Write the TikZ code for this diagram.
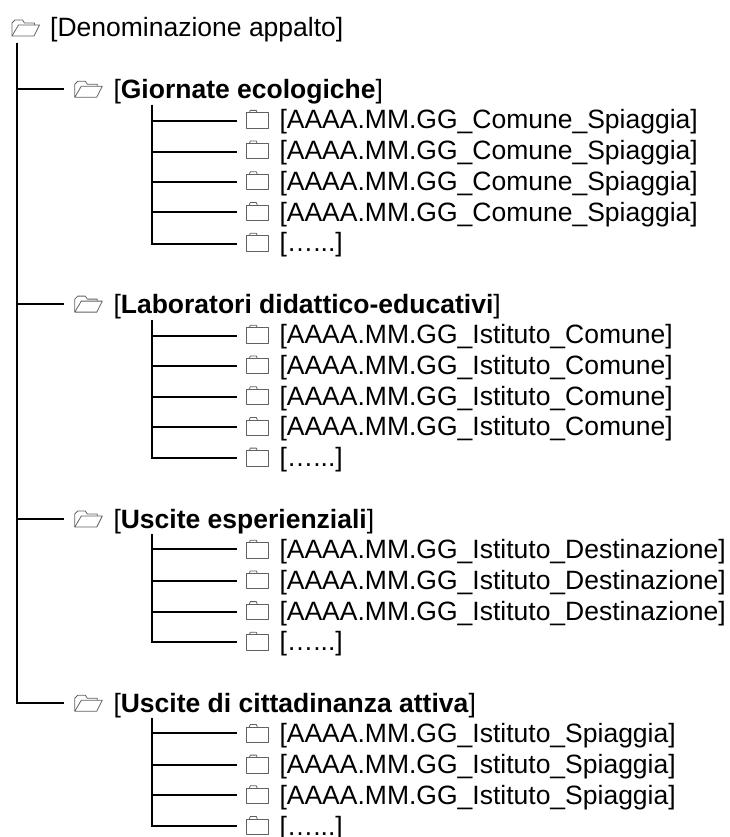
\documentclass[tikz,border=0pt]{standalone}
\usepackage{fontspec}
\setmainfont{Liberation Sans}
\tikzset{
  x=1pt,y=-1pt,
  conn/.style={draw=black,line width=2pt,line cap=butt},
  lbl/.style={anchor=base west,inner sep=0pt,font=\fontsize{26.5}{30}\selectfont,text=black},
  iconline/.style={draw=black!62,line width=0.8pt,line join=round},
  openbox/.style={inner sep=0pt,minimum width=29pt,minimum height=18pt},
  closedbox/.style={inner sep=0pt,minimum width=23pt,minimum height=18pt},
  openicon/.pic={
    \draw[iconline] (-13.5,8) -- (-13.5,-5) -- (-10.5,-8) -- (-3,-8) -- (-1,-5) -- (9,-5) -- (9,-3);
    \draw[iconline] (-13.5,8) -- (-7,-3) -- (14,-3) -- (8.5,8) -- cycle;
  },
  closedicon/.pic={
    \draw[iconline] (-11,-7) rectangle (11.3,8.3);
    \draw[iconline] (-8,-7) -- (-7,-9.5) -- (-1,-9.5) -- (0,-7);
  },
}
% name, line y, row number, text
\newcommand{\subrow}[4]{%
  \pgfmathsetmacro{\rowbase}{36.8+30.7*#3}
  \node[closedbox] (#1) at (257.3,#2) {};
  \pic at (257.3,\rowbase-9) {closedicon};
  \node[lbl] at (279.3,\rowbase) {#4};
}
\newcommand{\toprow}[4]{%
  \pgfmathsetmacro{\rowbase}{36.8+30.7*#3}
  \node[openbox] (#1) at (88.3,#2) {};
  \pic at (88.3,\rowbase-9) {openicon};
  \node[lbl] at (113.3,\rowbase) {[\textbf{#4}]};
}
\begin{document}
\begin{tikzpicture}
\useasboundingbox (0,0) rectangle (729,837);
% root
\node[openbox] (root) at (25.5,28) {};
\pic at (root) {openicon};
\node[lbl] (rootlabel) at (50,36.8) {[Denominazione appalto]};
\coordinate (t) at (17.4,42.7);
% level 1
\toprow{g}{89.3}{2}{Giornate ecologiche}
\toprow{l}{304}{9}{Laboratori didattico-educativi}
\toprow{u}{519}{16}{Uscite esperienziali}
\toprow{c}{702.7}{22}{Uscite di cittadinanza attiva}
\foreach \n in {g,l,u,c}
  \draw[conn,shorten >=9.3pt] (t) |- (\n.west);
% group 1
\coordinate (s1) at (151.7,105);
\subrow{g1}{120.7}{3}{[AAAA.MM.GG\_Comune\_Spiaggia]}
\subrow{g2}{151.7}{4}{[AAAA.MM.GG\_Comune\_Spiaggia]}
\subrow{g3}{181.7}{5}{[AAAA.MM.GG\_Comune\_Spiaggia]}
\subrow{g4}{212.3}{6}{[AAAA.MM.GG\_Comune\_Spiaggia]}
\subrow{g5}{243.7}{7}{[…...]}
\foreach \n in {g1,g2,g3,g4,g5}
  \draw[conn,shorten >=9.1pt] (s1) |- (\n.west);
% group 2
\coordinate (s2) at (151.7,320);
\subrow{l1}{335.7}{10}{[AAAA.MM.GG\_Istituto\_Comune]}
\subrow{l2}{366}{11}{[AAAA.MM.GG\_Istituto\_Comune]}
\subrow{l3}{396.7}{12}{[AAAA.MM.GG\_Istituto\_Comune]}
\subrow{l4}{427.3}{13}{[AAAA.MM.GG\_Istituto\_Comune]}
\subrow{l5}{457.7}{14}{[…...]}
\foreach \n in {l1,l2,l3,l4,l5}
  \draw[conn,shorten >=9.1pt] (s2) |- (\n.west);
% group 3
\coordinate (s3) at (151.7,534.3);
\subrow{u1}{549.3}{17}{[AAAA.MM.GG\_Istituto\_Destinazione]}
\subrow{u2}{580.7}{18}{[AAAA.MM.GG\_Istituto\_Destinazione]}
\subrow{u3}{611.7}{19}{[AAAA.MM.GG\_Istituto\_Destinazione]}
\subrow{u4}{641.7}{20}{[…...]}
\foreach \n in {u1,u2,u3,u4}
  \draw[conn,shorten >=9.1pt] (s3) |- (\n.west);
% group 4
\coordinate (s4) at (151.7,718);
\subrow{c1}{733.3}{23}{[AAAA.MM.GG\_Istituto\_Spiaggia]}
\subrow{c2}{764.7}{24}{[AAAA.MM.GG\_Istituto\_Spiaggia]}
\subrow{c3}{795.3}{25}{[AAAA.MM.GG\_Istituto\_Spiaggia]}
\subrow{c4}{826}{26}{[…...]}
\foreach \n in {c1,c2,c3,c4}
  \draw[conn,shorten >=9.1pt] (s4) |- (\n.west);
\end{tikzpicture}
\end{document}
